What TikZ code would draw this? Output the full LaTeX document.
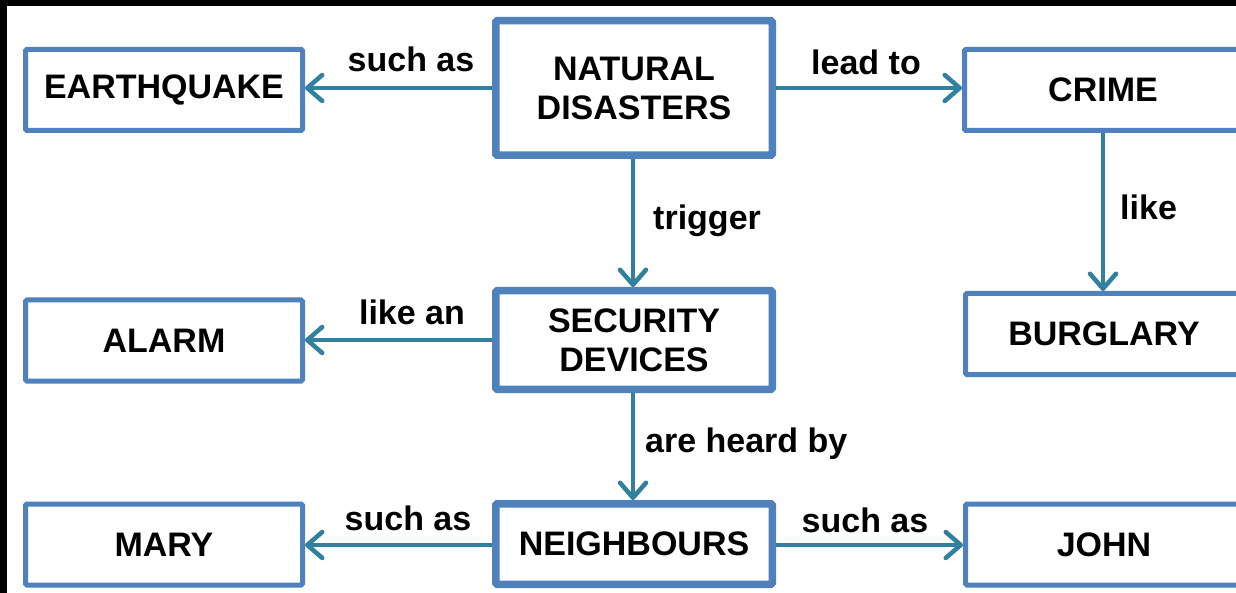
\documentclass[tikz,border=0pt]{standalone}
\usepackage{fontspec}
\setmainfont{Liberation Sans}
\usetikzlibrary{arrows.meta}
\definecolor{boxblue}{RGB}{79,129,189}
\definecolor{linkteal}{RGB}{49,128,160}
\begin{document}
\begin{tikzpicture}[x=1pt,y=-1pt,
  txt/.style={font=\fontsize{34}{39}\selectfont\bfseries},
  concept/.style={txt, draw=boxblue, line width=5pt, fill=white, rounded corners=1.5pt,
    minimum width=277pt, minimum height=81pt, inner sep=0pt, align=center},
  hub/.style={concept, line width=7.5pt, minimum width=276.5pt},
  link/.style={draw=linkteal, line width=4.5pt,
    -{Straight Barb[length=15pt,width=26pt,round]}},
  tag/.style={txt, inner sep=0pt, anchor=base}
]
% page frame
\fill[black] (0,0) rectangle (1236,593);
\fill[white] (7,6) rectangle (1236,593);
\clip (0,0) rectangle (1236,593);

% concepts
\node[hub, minimum height=134.5pt] (nat) at (634,88) {NATURAL\\DISASTERS};
\node[hub, minimum height=98.5pt] (sec) at (634,340) {SECURITY\\DEVICES};
\node[hub, minimum height=80.5pt] (nei) at (634,544) {NEIGHBOURS};
\node[concept] (earth) at (164,90) {EARTHQUAKE};
\node[concept] (alarm) at (164,340.5) {ALARM};
\node[concept] (mary) at (164,544.5) {MARY};
\node[concept] (crime) at (1103,90) {CRIME};
\node[concept] (burg) at (1104,334) {BURGLARY};
\node[concept] (john) at (1104,544.5) {JOHN};

% column of the vertical links under the hubs
\coordinate (spine) at (633,0);

% links
\draw[link] (nat.west) -- (nat.west -| earth.east);
\draw[link] (nat.east) -- (nat.east -| crime.west);
\draw[link] (nat.south -| spine) -- (sec.north -| spine);
\draw[link] (crime.south) -- (burg.north -| crime.south);
\draw[link] (sec.west) -- (sec.west -| alarm.east);
\draw[link] (sec.south -| spine) -- (nei.north -| spine);
\draw[link] ([yshift=-1pt]nei.west) -- ([yshift=-1pt]nei.west -| mary.east);
\draw[link] ([yshift=-1pt]nei.east) -- ([yshift=-1pt]nei.east -| john.west);

% link labels
\node[tag] (l1) at (411,72) {such as};
\node[tag] (l2) at (866,75) {lead to};
\node[tag, anchor=base west] (l3) at (653,230) {trigger};
\node[tag, anchor=base west] (l4) at (1120,220) {like};
\node[tag] (l5) at (412,325) {like an};
\node[tag, anchor=base west] (l6) at (645,452) {are heard by};
\node[tag] (l7) at (408,530) {such as};
\node[tag] (l8) at (865,532) {such as};
\end{tikzpicture}
\end{document}
